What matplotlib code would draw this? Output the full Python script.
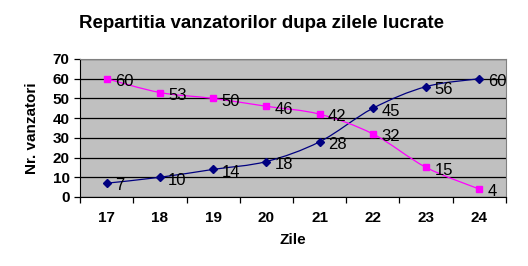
import matplotlib
matplotlib.use("Agg")
import matplotlib.pyplot as plt
from matplotlib.path import Path
from matplotlib.patches import PathPatch

zile = ["17", "18", "19", "20", "21", "22", "23", "24"]
serie_crescator = [7, 10, 14, 18, 28, 45, 56, 60]
serie_descrescator = [60, 53, 50, 46, 42, 32, 15, 4]
y_ticks = [0, 10, 20, 30, 40, 50, 60, 70]

plt.rcParams["font.family"] = ["Liberation Sans", "DejaVu Sans"]


def smooth_path(xs, ys):
    """Excel-like smoothed line: cubic Bezier segments through the points."""
    pts = list(zip(xs, ys))
    verts = [pts[0]]
    codes = [Path.MOVETO]
    n = len(pts)
    for i in range(n - 1):
        p0 = pts[max(i - 1, 0)]
        p1 = pts[i]
        p2 = pts[i + 1]
        p3 = pts[min(i + 2, n - 1)]
        c1 = (p1[0] + (p2[0] - p0[0]) / 6, p1[1] + (p2[1] - p0[1]) / 6)
        c2 = (p2[0] - (p3[0] - p1[0]) / 6, p2[1] - (p3[1] - p1[1]) / 6)
        verts += [c1, c2, p2]
        codes += [Path.CURVE4] * 3
    return Path(verts, codes)


fig = plt.figure(figsize=(5.28, 2.66), dpi=100)
ax = fig.add_axes([80 / 528, 1 - 197 / 266, 426 / 528, 138 / 266])
ax.set_facecolor("#C0C0C0")

x = list(range(len(zile)))
for serie, color, marker, ms in ((serie_crescator, "#000080", "D", 4),
                                 (serie_descrescator, "#FF00FF", "s", 5)):
    ax.add_patch(PathPatch(smooth_path(x, serie), facecolor="none",
                           edgecolor=color, lw=0.9, zorder=3))
    ax.plot(x, serie, ls="none", marker=marker, ms=ms,
            markerfacecolor=color, markeredgecolor=color, zorder=3)
    for xi, v in zip(x, serie):
        ax.annotate(str(v), (xi, v), xytext=(6, -2), textcoords="offset points",
                    ha="left", va="center", fontsize=12, zorder=4)

ax.set_xlim(-0.5, len(zile) - 0.5)
ax.set_ylim(0, 70)
ax.set_yticks(y_ticks)
ax.set_yticklabels([str(t) for t in y_ticks], fontweight="bold", fontsize=11)
ax.yaxis.grid(True, color="black", lw=0.9)
ax.set_axisbelow(True)

ax.set_xticks([i - 0.5 for i in range(len(zile) + 1)])
ax.set_xticklabels([])
ax.set_xticks(x, minor=True)
ax.set_xticklabels(zile, minor=True, fontweight="bold", fontsize=11)
ax.tick_params(axis="x", which="minor", length=0, pad=10)
ax.tick_params(axis="both", which="major", length=4, width=0.9, direction="out")

for side in ["top", "right"]:
    ax.spines[side].set_color("#808080")
for side in ["left", "bottom"]:
    ax.spines[side].set_color("black")

ax.set_xlabel("Zile", fontweight="bold", fontsize=11, labelpad=6)
ax.set_ylabel("Nr. vanzatori", fontweight="bold", fontsize=11, labelpad=10)
fig.text(0.495, 1 - 24 / 266, "Repartitia vanzatorilor dupa zilele lucrate",
         ha="center", va="center", fontweight="bold", fontsize=13.5)

fig.savefig("out.png", dpi=100)
